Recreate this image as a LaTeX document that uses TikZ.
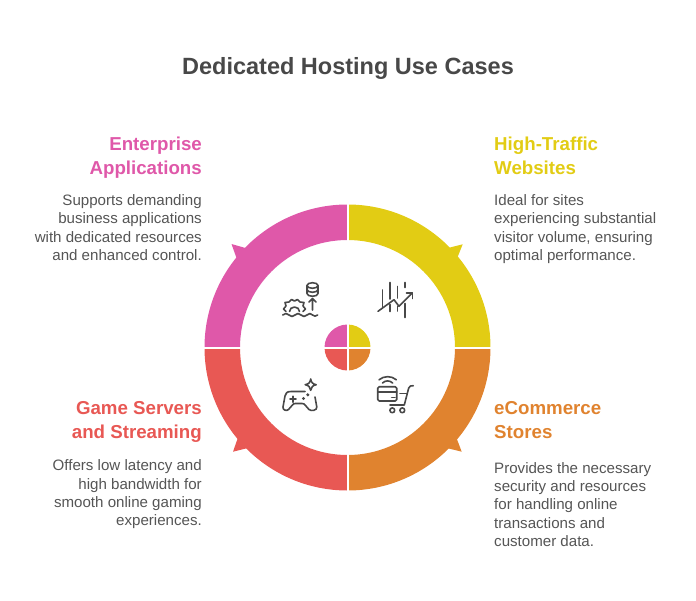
\documentclass[tikz,border=0pt]{standalone}
\usepackage{fontspec}
\setmainfont{Liberation Sans}
\definecolor{cpink}{HTML}{DF58A9}
\definecolor{cyellow}{HTML}{E2CC14}
\definecolor{corange}{HTML}{E0832F}
\definecolor{cred}{HTML}{E85854}
\definecolor{ctitle}{HTML}{484848}
\definecolor{cbody}{HTML}{555555}
\tikzset{
  titlebox/.style={font=\fontsize{23.5}{28}\selectfont\bfseries,text=ctitle,inner sep=0pt},
  headR/.style={font=\fontsize{18.7}{24}\selectfont\bfseries,align=right,anchor=north east,inner sep=0pt},
  headL/.style={font=\fontsize{18.7}{24}\selectfont\bfseries,align=left,anchor=north west,inner sep=0pt},
  bodyR/.style={font=\fontsize{15.1}{18.4}\selectfont,text=cbody,align=right,anchor=north east,inner sep=0pt},
  bodyL/.style={font=\fontsize{15.1}{18.4}\selectfont,text=cbody,align=left,anchor=north west,inner sep=0pt},
  icon/.style={draw=ctitle,line width=1.6pt,line cap=round,line join=round,fill=none},
  gapline/.style={draw=white,line width=2pt}
}
\begin{document}
\begin{tikzpicture}[x=1pt,y=-1pt]
\useasboundingbox (0,0) rectangle (696,600);
\coordinate (c) at (347.5,347.5);
\def\Ro{143}\def\Ri{107.5}\def\Rc{23}
% ring sectors (y axis is flipped, angles therefore run clockwise from +x)
\fill[cyellow] (347.5,204.5) arc (-90:0:\Ro) -- ++(-35.5,0) arc (0:-90:\Ri) -- cycle;
\fill[corange] (490.5,347.5) arc (0:90:\Ro) -- ++(0,-35.5) arc (90:0:\Ri) -- cycle;
\fill[cred] (347.5,490.5) arc (90:180:\Ro) -- ++(35.5,0) arc (180:90:\Ri) -- cycle;
\fill[cpink] (204.5,347.5) arc (180:270:\Ro) -- ++(0,35.5) arc (270:180:\Ri) -- cycle;
% arrow barbs
\fill[cyellow] (462.7,244.3) -- (448,248) -- (457.6,257) -- cycle;
\fill[corange] (461.7,451.7) -- (456.7,438.5) -- (447.5,448.2) -- cycle;
\fill[cred] (233,451.7) -- (237.7,438.3) -- (248,448) -- cycle;
\fill[cpink] (231.5,244) -- (245.5,248) -- (236.5,258) -- cycle;
% centre disc
\fill[cyellow] (c) -- (347.5,324.5) arc (-90:0:\Rc) -- cycle;
\fill[corange] (c) -- (370.5,347.5) arc (0:90:\Rc) -- cycle;
\fill[cred] (c) -- (347.5,370.5) arc (90:180:\Rc) -- cycle;
\fill[cpink] (c) -- (324.5,347.5) arc (180:270:\Rc) -- cycle;
% separators
\draw[gapline] (347.5,200) -- (347.5,495);
\draw[gapline] (200,347.5) -- (495,347.5);
% title
\node[titlebox] (title) at (348,68.5) {Dedicated Hosting Use Cases};
% texts
\node[headR,text=cpink] (h1) at (202,137) {Enterprise\\Applications};
\node[bodyR] (b1) at (202,194.3) {Supports demanding\\business applications\\with dedicated resources\\and enhanced control.};
\node[headL,text=cyellow] (h2) at (494,137) {High-Traffic\\Websites};
\node[bodyL] (b2) at (494,194.3) {Ideal for sites\\experiencing substantial\\visitor volume, ensuring\\optimal performance.};
\node[headR,text=cred] (h3) at (202,401) {Game Servers\\and Streaming};
\node[bodyR] (b3) at (202,459.5) {Offers low latency and\\high bandwidth for\\smooth online gaming\\experiences.};
\node[headL,text=corange] (h4) at (494,401) {eCommerce\\Stores};
\node[bodyL] (b4) at (494,462) {Provides the necessary\\security and resources\\for handling online\\transactions and\\customer data.};
% icon: database, arrow, gear, waves
\draw[icon] (307,285.5) arc (180:360:5.5 and 2.8) -- (318,293.5) arc (0:180:5.5 and 2.8) -- cycle;
\draw[icon] (307,285.5) arc (180:0:5.5 and 2.8);
\draw[icon] (307,289.5) arc (180:0:5.5 and 2.8);
\draw[icon] (312.5,310) -- (312.5,298.5) (309,302) -- (312.5,298.5) -- (316,302);
\draw[icon] (286,311.5) -- (283.5,309) -- (286,306) -- (285,302.5) -- (289,302) -- (291.5,299.5) -- (294.5,301) -- (297.5,299.5) -- (300,302) -- (304,302.5) -- (303,306) -- (305.5,309) -- (303,311.5);
\draw[icon] (289.5,311.5) arc (180:360:5 and 4.5);
\draw[icon] (282.7,315) .. controls (285,313) and (287,313) .. (289,315) .. controls (291,317) and (293,317) .. (295,315) .. controls (297,313) and (299,313) .. (301,315) .. controls (303,317) and (305,317) .. (307,315) .. controls (309,313) and (311,313) .. (312.5,315) .. controls (314,316.5) and (316,316.5) .. (317.7,315);
% icon: chart
\draw[icon] (382.3,290) -- (382.3,308);
\draw[icon] (389.7,282.5) -- (389.7,299) (389.7,304.5) -- (389.7,311.5);
\draw[icon] (397.3,286.5) -- (397.3,298) (397.3,306.5) -- (397.3,311);
\draw[icon] (405,282.5) -- (405,287.5) (405,303.5) -- (405,317.5);
\draw[icon] (378,311.3) -- (394,299.7) -- (399,306.3) -- (412.3,293);
\draw[icon] (406.5,293) -- (412.3,293) -- (412.3,298.5);
% icon: gamepad
\draw[icon] (310.7,379) .. controls (311.2,382.5) and (312.7,384) .. (316.2,384.7) .. controls (312.7,385.4) and (311.2,387) .. (310.7,390.3) .. controls (310.2,387) and (308.7,385.4) .. (305.2,384.7) .. controls (308.7,384) and (310.2,382.5) .. (310.7,379) -- cycle;
\draw[icon] (305,391.5) -- (291,391.5) .. controls (287,391.5) and (285.5,393) .. (285,396) -- (283,407) .. controls (282.5,410) and (286.5,411.5) .. (288.5,409.5) -- (292,405.5) .. controls (293,404) and (294,403.5) .. (295.5,403.5) -- (302,403.5) .. controls (303.5,403.5) and (304.5,404) .. (305.5,405.5) -- (309,409.5) .. controls (311,411.5) and (317.3,410.5) .. (316.8,407) -- (315,397);
\draw[icon] (290,399.2) -- (296,399.2) (293,396.2) -- (293,402.2);
\fill[ctitle] (303.5,398.5) circle (1.7) (307.8,394.8) circle (1.7);
% icon: cart
\draw[icon,rounded corners=1.5pt] (377.7,386.7) rectangle (396.7,401);
\draw[icon] (377.7,391.7) -- (396.7,391.7) (391.7,397.3) -- (395,397.3);
\draw[icon] (382.5,383) arc (-135:-45:7.2) (379,379.8) arc (-130:-50:13.5);
\draw[icon] (413.3,385.7) -- (410.5,386) .. controls (409.3,386.3) and (409,387) .. (408.7,388) -- (404.3,405) -- (390,405);
\draw[icon] (400,393.3) -- (406.7,393.3);
\draw[icon] (392.3,410.3) circle (2.4) (402.3,410.3) circle (2.4);
\end{tikzpicture}
\end{document}
